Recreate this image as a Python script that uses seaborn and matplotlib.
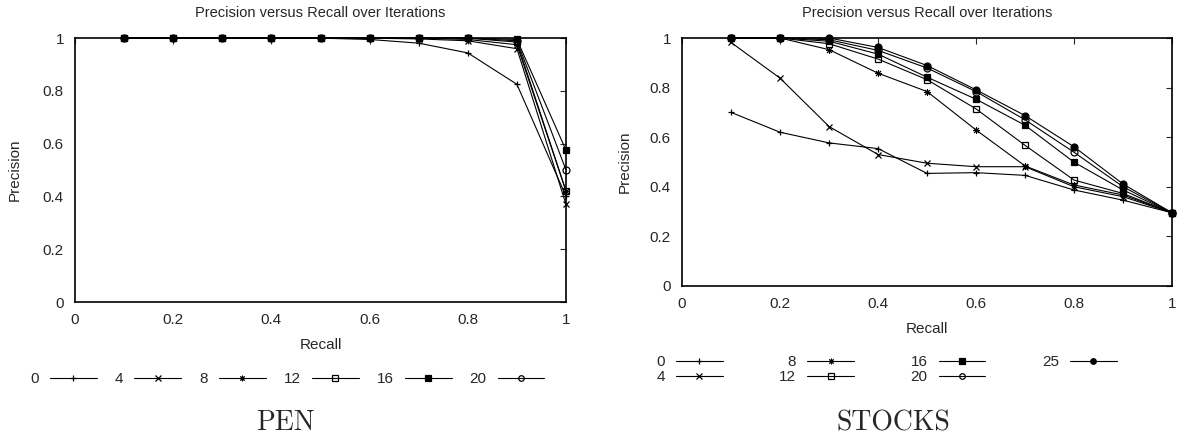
import matplotlib
matplotlib.use("Agg")
import matplotlib.pyplot as plt
import seaborn as sns

sns.set_style("white")
plt.rcParams["font.family"] = ["Liberation Sans", "DejaVu Sans"]

# recall levels (x axis)
recall = [0.1, 0.2, 0.3, 0.4, 0.5, 0.6, 0.7, 0.8, 0.9, 1.0]

# PEN dataset: precision per iteration count
pen_labels = ["0", "4", "8", "12", "16", "20"]
pen_0 = [1.0, 1.0, 1.0, 1.0, 1.0, 0.995, 0.981, 0.944, 0.825, 0.40]
pen_4 = [1.0, 1.0, 1.0, 1.0, 1.0, 1.0, 0.997, 0.99, 0.96, 0.37]
pen_8 = [1.0, 1.0, 1.0, 1.0, 1.0, 1.0, 1.0, 0.995, 0.975, 0.42]
pen_12 = [1.0, 1.0, 1.0, 1.0, 1.0, 1.0, 1.0, 1.0, 0.985, 0.42]
pen_16 = [1.0, 1.0, 1.0, 1.0, 1.0, 1.0, 1.0, 1.0, 0.995, 0.575]
pen_20 = [1.0, 1.0, 1.0, 1.0, 1.0, 1.0, 1.0, 1.0, 0.99, 0.50]

# STOCKS dataset
stocks_labels = ["0", "4", "8", "12", "16", "20", "25"]
stocks_0 = [0.70, 0.62, 0.577, 0.554, 0.454, 0.457, 0.446, 0.387, 0.346, 0.295]
stocks_4 = [0.982, 0.838, 0.643, 0.53, 0.495, 0.481, 0.481, 0.40, 0.36, 0.295]
stocks_8 = [1.0, 1.0, 0.953, 0.858, 0.784, 0.629, 0.484, 0.407, 0.367, 0.295]
stocks_12 = [1.0, 1.0, 0.977, 0.915, 0.832, 0.714, 0.567, 0.427, 0.373, 0.295]
stocks_16 = [1.0, 1.0, 0.987, 0.935, 0.842, 0.753, 0.648, 0.499, 0.387, 0.295]
stocks_20 = [1.0, 1.0, 0.993, 0.95, 0.879, 0.784, 0.67, 0.539, 0.40, 0.295]
stocks_25 = [1.0, 1.0, 1.0, 0.962, 0.889, 0.791, 0.687, 0.561, 0.411, 0.295]

# gnuplot-like point types: (marker, face colour, edge width)
point_styles = {
    "0": ("+", "none", 0.9),
    "4": ("x", "none", 0.9),
    "8": ((8, 2, 0), "none", 0.7),
    "12": ("s", "none", 0.9),
    "16": ("s", "black", 0.9),
    "20": ("o", "none", 0.9),
    "25": ("o", "black", 0.9),
}


def draw_panel(ax, labels, series):
    for lab, vals in zip(labels, series):
        marker, face, mew = point_styles[lab]
        sns.lineplot(x=recall, y=vals, ax=ax, color="black", linewidth=0.8,
                     marker=marker, markersize=5, markerfacecolor=face,
                     markeredgecolor="black", markeredgewidth=mew,
                     label=lab, clip_on=False)
    handles, hlabels = ax.get_legend_handles_labels()
    if ax.get_legend() is not None:
        ax.get_legend().remove()

    ax.set_xlim(0, 1)
    ax.set_ylim(0, 1)
    ax.set_xticks([0, 0.2, 0.4, 0.6, 0.8, 1])
    ax.set_yticks([0, 0.2, 0.4, 0.6, 0.8, 1])
    ax.set_xticklabels(["0", "0.2", "0.4", "0.6", "0.8", "1"])
    ax.set_yticklabels(["0", "0.2", "0.4", "0.6", "0.8", "1"])
    ax.tick_params(direction="in", top=True, right=True, length=4.5,
                   width=0.8, labelsize=11, pad=8)
    for sp in ax.spines.values():
        sp.set_linewidth(1.2)
        sp.set_color("black")
    ax.set_title("Precision versus Recall over Iterations", fontsize=10.5, pad=15)
    ax.set_xlabel("Recall", fontsize=11)
    ax.set_ylabel("Precision", fontsize=11)
    return handles, hlabels


fig = plt.figure(figsize=(11.78, 4.42), dpi=100)
ax_pen = fig.add_axes([0.0637, 0.3167, 0.4168, 0.597])
ax_stk = fig.add_axes([0.579, 0.353, 0.416, 0.561])

h1, l1 = draw_panel(ax_pen, pen_labels, [pen_0, pen_4, pen_8, pen_12, pen_16, pen_20])
h2, l2 = draw_panel(ax_stk, stocks_labels,
                    [stocks_0, stocks_4, stocks_8, stocks_12, stocks_16, stocks_20, stocks_25])

ax_pen.xaxis.set_label_coords(0.5, -0.136)
ax_pen.yaxis.set_label_coords(-0.108, 0.5)
ax_stk.xaxis.set_label_coords(0.5, -0.145)
ax_stk.yaxis.set_label_coords(-0.102, 0.5)

fig.legend(h1, l1, loc="center", bbox_to_anchor=(0.244, 0.1425), ncol=6,
           frameon=False, markerfirst=False, fontsize=11, handlelength=3.07,
           handletextpad=0.72, columnspacing=1.18, borderpad=0, numpoints=1,
           markerscale=0.8)
fig.legend(h2, l2, loc="center", bbox_to_anchor=(0.7526, 0.164), ncol=4,
           frameon=False, markerfirst=False, fontsize=11, handlelength=3.07,
           handletextpad=0.72, columnspacing=3.7, labelspacing=0.05,
           borderpad=0, numpoints=1, markerscale=0.8)

fig.text(0.242, 0.043, "PEN", family="cmr10", fontsize=20, ha="center", va="center")
fig.text(0.758, 0.043, "STOCKS", family="cmr10", fontsize=20, ha="center", va="center")

fig.savefig("out.png", dpi=100)
